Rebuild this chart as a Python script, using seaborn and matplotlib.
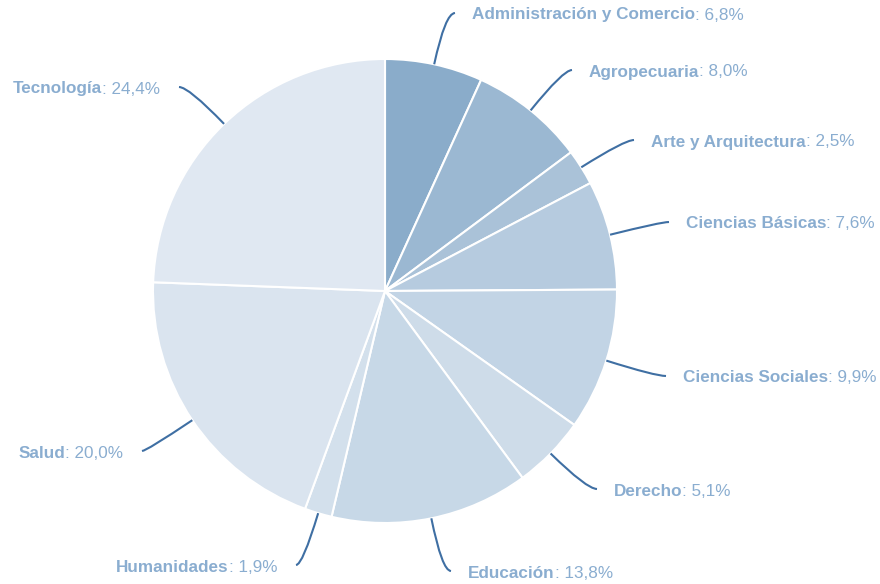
import matplotlib
matplotlib.use("Agg")
import matplotlib.pyplot as plt
import seaborn as sns
import numpy as np
from matplotlib.path import Path
from matplotlib.patches import PathPatch

sns.set_theme(style="white")
plt.rcParams['font.family'] = ['Liberation Sans', 'DejaVu Sans']

categories = ["Administración y Comercio", "Agropecuaria", "Arte y Arquitectura",
              "Ciencias Básicas", "Ciencias Sociales", "Derecho", "Educación",
              "Humanidades", "Salud", "Tecnología"]
values = [6.8, 8.0, 2.5, 7.6, 9.9, 5.1, 13.8, 1.9, 20.0, 24.4]
value_labels = ["6,8%", "8,0%", "2,5%", "7,6%", "9,9%", "5,1%", "13,8%", "1,9%", "20,0%", "24,4%"]

colors = ["#8aacca", "#9bb8d2", "#aac2d8", "#b6cbdf", "#c2d4e5",
          "#cedce9", "#c7d8e7", "#d3e0ec", "#dae4ef", "#e0e8f2"]

# label anchor positions in pixel coords (x, y, side)
label_pos = [(472, 15, 'L'), (589, 72, 'L'), (651, 142, 'L'), (686, 224, 'L'),
             (683, 378, 'L'), (614, 491, 'L'), (468, 573, 'L'),
             (277, 567, 'R'), (123, 453, 'R'), (160, 89, 'R')]

W, H = 880, 584
fig = plt.figure(figsize=(W / 100, H / 100), dpi=100)
ax = fig.add_axes([0, 0, 1, 1])

cx, cy, r = 385, 291, 232
ax.pie(values, colors=colors, startangle=90, counterclock=False,
       center=(cx, H - cy), radius=r, frame=True,
       wedgeprops=dict(edgecolor='white', linewidth=1.5))
ax.set_xlim(0, W)
ax.set_ylim(0, H)
ax.set_aspect('equal')
ax.axis('off')

txt_color = "#8aadd0"
line_color = "#3f6fa3"

total = sum(values)
cum = 0
fig.canvas.draw()
renderer = fig.canvas.get_renderer()
for name, v, vl, (lx, ly, side) in zip(categories, values, value_labels, label_pos):
    mid = (cum + v / 2) / total * 2 * np.pi
    cum += v
    dx, dy = np.sin(mid), -np.cos(mid)
    p0 = np.array([cx + r * dx, cy + r * dy])
    gap = 17
    p2 = np.array([lx - gap if side == 'L' else lx + gap + 2, ly - 2])
    if abs(dy) > 1e-3:
        t = (p2[1] - p0[1]) / dy
        t = max(t, 5)
    else:
        t = 20
    ctrl = p0 + t * np.array([dx, dy])
    if side == 'L':
        ctrl[0] = min(ctrl[0], p2[0] - 3)
    else:
        ctrl[0] = max(ctrl[0], p2[0] + 3)
    pts = [(p0[0], H - p0[1]), (ctrl[0], H - ctrl[1]), (p2[0], H - p2[1])]
    path = Path(pts, [Path.MOVETO, Path.CURVE3, Path.CURVE3])
    ax.add_patch(PathPatch(path, facecolor='none', edgecolor=line_color, lw=1.5))

    fs = 12.3
    if side == 'L':
        t1 = ax.text(lx, H - ly, name, fontsize=fs, fontweight='bold', color=txt_color,
                     ha='left', va='center')
        bb = t1.get_window_extent(renderer)
        ax.text(bb.x1, H - ly, ": " + vl, fontsize=fs, color=txt_color, ha='left', va='center')
    else:
        t2 = ax.text(lx, H - ly, ": " + vl, fontsize=fs, color=txt_color, ha='right', va='center')
        bb = t2.get_window_extent(renderer)
        ax.text(bb.x0, H - ly, name, fontsize=fs, fontweight='bold', color=txt_color,
                ha='right', va='center')

fig.savefig("out.png", dpi=100)
